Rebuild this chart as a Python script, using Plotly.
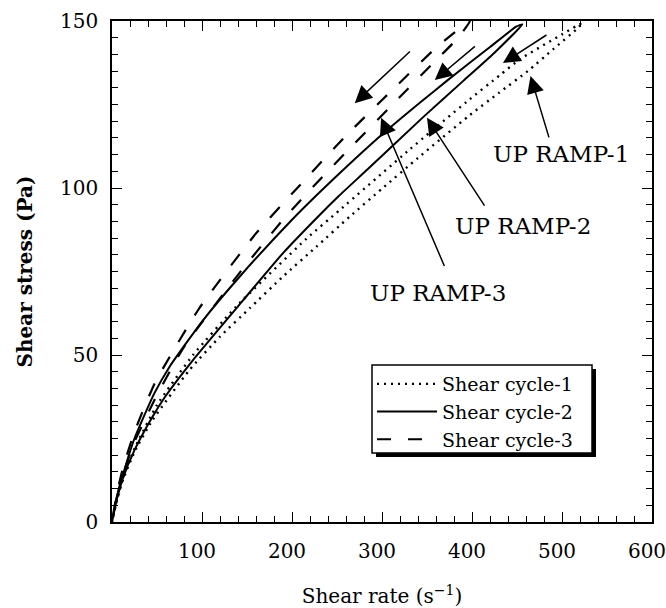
import plotly.graph_objects as go

# ---- data ----
cycle1_up_x = [0, 5, 12, 25, 45, 86, 120, 153, 190, 227, 264, 300, 340, 396, 430, 462, 490, 516, 523]
cycle1_up_y = [0, 6, 12.5, 21, 30.5, 45.5, 55.5, 64, 73.5, 82.4, 91.4, 99.8, 109, 121.5, 128.5, 135, 141.5, 147.5, 149.5]
cycle1_down_x = [523, 500, 453, 431, 394, 331, 253, 216, 138, 90, 50, 25, 12, 5, 0]
cycle1_down_y = [149.5, 146, 138.5, 133.8, 125.8, 111.6, 93.4, 84.8, 64.5, 50, 35, 22, 13, 6, 0]

cycle2_up_x = [0, 5, 12, 25, 45, 59, 90, 146, 190, 231, 252, 284, 346, 390, 425, 456]
cycle2_up_y = [0, 6.5, 13, 21.5, 31.5, 37.5, 48.5, 66.5, 80.5, 92, 97.6, 105.6, 121.3, 132, 140.5, 149]
cycle2_down_x = [456, 449, 420, 373, 342, 300, 260, 231, 200, 142, 100, 64, 47, 25, 12, 5, 0]
cycle2_down_y = [149, 148.3, 142.2, 132.3, 125.5, 116, 106.2, 98.8, 90.5, 73.5, 60, 46.5, 38.5, 25, 14, 7, 0]

cycle3_up_x = [0, 5, 12, 25, 50, 79, 140, 190, 234, 259, 308, 359, 384, 398]
cycle3_up_y = [0, 7, 14, 24, 38, 52, 74, 90.5, 103.4, 110.4, 124, 138, 144.8, 150]
cycle3_down_x = [398, 390, 379, 360, 309, 259, 209, 160, 97, 48, 25, 12, 5, 0]
cycle3_down_y = [150, 148.6, 146.2, 142, 128.7, 115.4, 100.9, 86.4, 64, 41.8, 27, 16, 8, 0]

series_names = ["Shear cycle-1", "Shear cycle-2", "Shear cycle-3"]

x_tickvals = [100, 200, 300, 400, 500, 600]
y_tickvals = [0, 50, 100, 150]

# labelled arrows
ramp_labels = ["UP RAMP-1", "UP RAMP-2", "UP RAMP-3"]
ramp_tip_x = [465, 350, 299]
ramp_tip_y = [133.5, 121, 121]
ramp_tail_x = [486, 415, 370]
ramp_tail_y = [114.7, 94.3, 76.2]
ramp_text_x = [499, 456.5, 362.6]
ramp_text_y = [110.2, 88.5, 68.6]

# down-ramp arrows (no text)
down_tip_x = [434.4, 358.6, 269.7]
down_tip_y = [137.4, 132.3, 125.4]
down_tail_x = [484.4, 404.9, 332.7]
down_tail_y = [146.1, 142.8, 141.3]

FONT = "DejaVu Serif"

fig = go.Figure()
styles = [
    dict(color="black", width=2.4, dash="2px,5px"),
    dict(color="black", width=2),
    dict(color="black", width=2.2, dash="14px,17px"),
]
cycles = [
    (cycle1_up_x + cycle1_down_x[1:], cycle1_up_y + cycle1_down_y[1:]),
    (cycle2_up_x + cycle2_down_x[1:], cycle2_up_y + cycle2_down_y[1:]),
    (cycle3_up_x + cycle3_down_x[1:], cycle3_up_y + cycle3_down_y[1:]),
]
for (cx, cy), name, st in zip(cycles, series_names, styles):
    fig.add_trace(go.Scatter(x=cx, y=cy, mode="lines", name=name,
                             line=dict(shape="spline", smoothing=0.5, **st)))

annotations = []
for t, tx, ty, ax, ay, lx, ly in zip(ramp_labels, ramp_tip_x, ramp_tip_y, ramp_tail_x,
                                     ramp_tail_y, ramp_text_x, ramp_text_y):
    annotations.append(dict(x=tx, y=ty, ax=ax, ay=ay, xref="x", yref="y", axref="x", ayref="y",
                            text="", showarrow=True, arrowhead=2, arrowsize=2.3, arrowwidth=1.5,
                            arrowcolor="black"))
    annotations.append(dict(x=lx, y=ly, xref="x", yref="y", text=t, showarrow=False,
                            font=dict(family=FONT, size=23, color="black")))
for tx, ty, ax, ay in zip(down_tip_x, down_tip_y, down_tail_x, down_tail_y):
    annotations.append(dict(x=tx, y=ty, ax=ax, ay=ay, xref="x", yref="y", axref="x", ayref="y",
                            text="", showarrow=True, arrowhead=2, arrowsize=2.3, arrowwidth=1.5,
                            arrowcolor="black"))

# legend frame with drop shadow (paper coordinates)
shapes = [
    dict(type="rect", xref="paper", yref="paper", x0=0.4889, x1=0.8963, y0=0.1297, y1=0.3054,
         fillcolor="black", line=dict(width=0), layer="above"),
    dict(type="rect", xref="paper", yref="paper", x0=0.4815, x1=0.8889, y0=0.1377, y1=0.3134,
         fillcolor="white", line=dict(color="black", width=1.5), layer="above"),
]

axis_common = dict(showline=True, linecolor="black", linewidth=1.6, mirror="ticks",
                   ticks="inside", tickcolor="black", tickwidth=1.3, ticklen=10,
                   showgrid=False, zeroline=False, ticklabeloverflow="allow", automargin=False)

fig.update_layout(
    template="none",
    width=666, height=608,
    margin=dict(l=112, r=14, t=21, b=86),
    paper_bgcolor="white", plot_bgcolor="white",
    font=dict(family=FONT, color="black"),
    xaxis=dict(range=[0, 600], tickvals=x_tickvals,
               tickfont=dict(family=FONT, size=20, color="black"),
               minor=dict(dtick=20, tick0=0, ticks="inside", ticklen=6, tickcolor="black", tickwidth=1.2),
               title=dict(text="Shear rate (s<sup>\u22121</sup>)", font=dict(family=FONT, size=20, color="black"), standoff=30),
               ticklabelstandoff=10, ticklabelshift=-5,
               **axis_common),
    yaxis=dict(range=[0, 150], tickvals=y_tickvals,
               tickfont=dict(family=FONT, size=20, color="black"),
               minor=dict(dtick=5, tick0=0, ticks="inside", ticklen=6, tickcolor="black", tickwidth=1.2),
               title=dict(text="<b>Shear stress (Pa)</b>", font=dict(family=FONT, size=20, color="black"), standoff=22),
               ticklabelstandoff=8,
               **axis_common),
    showlegend=True,
    legend=dict(x=0.4815, y=0.3134, xanchor="left", yanchor="top", bgcolor="rgba(0,0,0,0)",
                borderwidth=0, itemwidth=60, tracegroupgap=0,
                font=dict(family=FONT, size=19, color="black")),
    annotations=annotations,
    shapes=shapes,
)

fig.write_html("out.html")
